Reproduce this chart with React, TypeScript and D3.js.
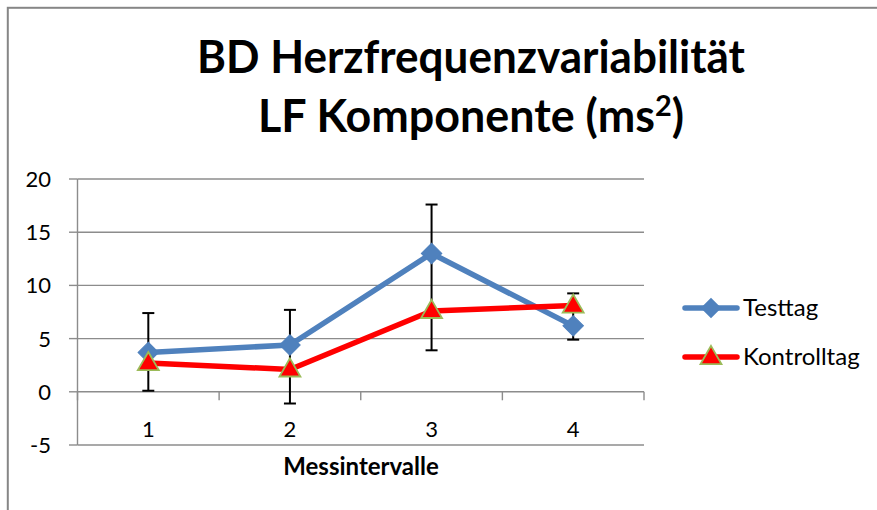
import React from "react";
import * as d3 from "d3";

const categories = ["1", "2", "3", "4"];
const testtag = [3.7, 4.4, 13.0, 6.2];
const kontrolltag = [2.7, 2.1, 7.6, 8.1];
const errLow = [0.1, -1.1, 3.9, 4.9];
const errHigh = [7.4, 7.7, 17.6, 9.25];
const yTicks = [-5, 0, 5, 10, 15, 20];

const W = 877;
const H = 510;
const FONT = "Lato, 'Open Sans', sans-serif";
const GRID = "#8c8c8c";

export default function App() {
  const x = d3.scaleBand<string>().domain(categories).range([77.5, 644]).padding(0);
  const y = d3.scaleLinear().domain([-5, 20]).range([445, 179]);
  const cx = (c: string) => (x(c) as number) + x.bandwidth() / 2;
  const line = d3
    .line<number>()
    .x((_, i) => cx(categories[i]))
    .y((d) => y(d));
  const diamond = d3.symbol().type(d3.symbolSquare).size(210)();
  const tri = d3.symbol().type(d3.symbolTriangle).size(190)();
  const bounds = [...categories.map((c) => x(c) as number), x.range()[1]];

  return (
    <svg
      width={W}
      height={H}
      style={{ position: "absolute", left: 0, top: 0, background: "#fff" }}
      fontFamily={FONT}
    >
      <rect x={7.8} y={7.8} width={1000} height={700} fill="#fff" stroke="#868686" strokeWidth={2} />

      {/* title */}
      <text x={471} y={73} textAnchor="middle" fontSize={45} fontWeight="bold" textLength={548} lengthAdjust="spacingAndGlyphs" fill="#000">
        BD Herzfrequenzvariabilität
      </text>
      <text x={471} y={132} textAnchor="middle" fontSize={45} fontWeight="bold" textLength={426} lengthAdjust="spacingAndGlyphs" fill="#000">
        LF Komponente (ms<tspan fontSize={29} dy={-16}>2</tspan><tspan dy={16}>)</tspan>
      </text>

      {/* gridlines */}
      {yTicks.map((t) => (
        <g key={t}>
          {t !== 0 && (
            <line x1={77.5} x2={644} y1={y(t)} y2={y(t)} stroke={GRID} strokeWidth={1.4} />
          )}
          <line x1={69} x2={77.5} y1={y(t)} y2={y(t)} stroke={GRID} strokeWidth={1.4} />
          <text x={51} y={y(t) + 8} textAnchor="end" fontSize={22} fill="#000">
            {t}
          </text>
        </g>
      ))}
      {/* y axis */}
      <line x1={77.5} x2={77.5} y1={179} y2={445} stroke={GRID} strokeWidth={1.4} />
      {/* x axis at 0 */}
      <line x1={77.5} x2={644} y1={y(0)} y2={y(0)} stroke={GRID} strokeWidth={1.4} />
      {bounds.map((b, i) => (
        <line key={i} x1={b} x2={b} y1={y(0)} y2={y(0) + 8.5} stroke={GRID} strokeWidth={1.4} />
      ))}
      {categories.map((c) => (
        <text key={c} x={cx(c)} y={437} textAnchor="middle" fontSize={22} fill="#000">
          {c}
        </text>
      ))}
      <text x={361} y={475} textAnchor="middle" fontSize={24} fontWeight="bold" fill="#000">
        Messintervalle
      </text>

      {/* error bars */}
      {categories.map((c, i) => (
        <g key={c} stroke="#000" strokeWidth={2}>
          <line x1={cx(c)} x2={cx(c)} y1={y(errLow[i])} y2={y(errHigh[i])} />
          <line x1={cx(c) - 6} x2={cx(c) + 6} y1={y(errLow[i])} y2={y(errLow[i])} />
          <line x1={cx(c) - 6} x2={cx(c) + 6} y1={y(errHigh[i])} y2={y(errHigh[i])} />
        </g>
      ))}

      {/* Testtag */}
      <path d={line(testtag) as string} fill="none" stroke="#4F81BD" strokeWidth={5.5} strokeLinejoin="round" strokeLinecap="round" />
      {testtag.map((v, i) => (
        <path key={i} d={diamond as string} transform={`translate(${cx(categories[i])},${y(v)}) rotate(45)`} fill="#4F81BD" stroke="#4F81BD" strokeWidth={1} />
      ))}

      {/* Kontrolltag */}
      <path d={line(kontrolltag) as string} fill="none" stroke="#FF0000" strokeWidth={5.5} strokeLinejoin="round" strokeLinecap="round" />
      {kontrolltag.map((v, i) => (
        <path key={i} d={tri as string} transform={`translate(${cx(categories[i])},${y(v) + 1})`} fill="#FF0000" stroke="#9BBB59" strokeWidth={1.8} />
      ))}

      {/* legend */}
      <line x1={685} x2={737} y1={308} y2={308} stroke="#4F81BD" strokeWidth={5.5} strokeLinecap="round" />
      <path d={diamond as string} transform="translate(711,308) rotate(45)" fill="#4F81BD" />
      <text x={743} y={316} fontSize={24} fill="#000">Testtag</text>
      <line x1={685} x2={737} y1={357} y2={357} stroke="#FF0000" strokeWidth={5.5} strokeLinecap="round" />
      <path d={tri as string} transform="translate(711,358)" fill="#FF0000" stroke="#9BBB59" strokeWidth={1.8} />
      <text x={743} y={365} fontSize={24} fill="#000">Kontrolltag</text>
    </svg>
  );
}
